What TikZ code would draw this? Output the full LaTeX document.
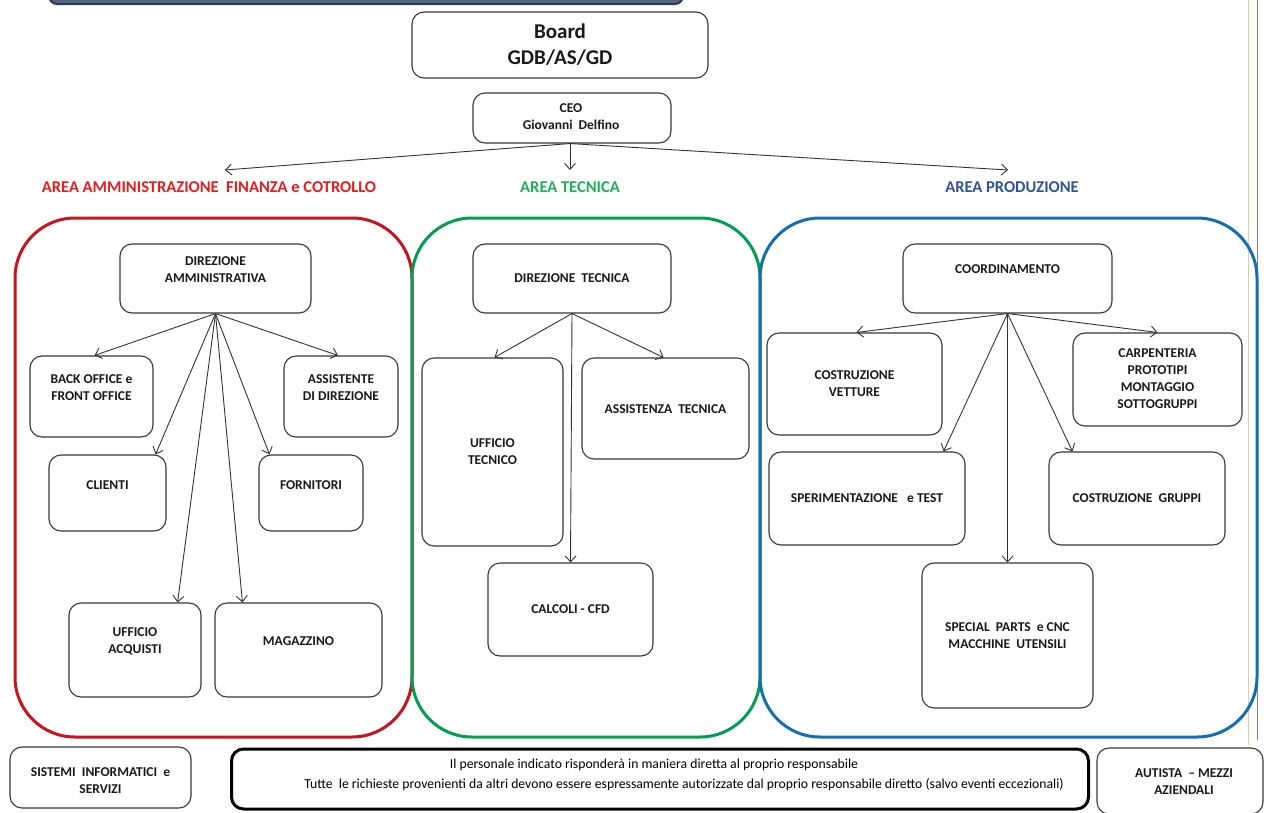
\documentclass[tikz,border=0pt]{standalone}
\usepackage{fontspec}
\setmainfont{Carlito}
\usetikzlibrary{arrows.meta}
\definecolor{redA}{RGB}{200,20,30}
\definecolor{greenA}{RGB}{0,160,80}
\definecolor{blueA}{RGB}{20,110,180}
\definecolor{redL}{RGB}{230,30,30}
\definecolor{greenL}{RGB}{30,176,90}
\definecolor{blueL}{RGB}{47,85,151}
\definecolor{boxgray}{RGB}{55,55,55}
\definecolor{barfill}{RGB}{82,100,132}
\definecolor{bardraw}{RGB}{45,58,80}
\definecolor{yline}{RGB}{215,210,160}
\begin{document}
\begin{tikzpicture}[x=1pt,y=-1pt,
  box/.style={draw=boxgray, line width=1.1pt, rounded corners=12pt, inner sep=0pt, fill=white},
  lbl/.style={font=\fontsize{13.5}{17}\selectfont\bfseries, align=center, inner sep=0pt, text=black!90},
  area/.style={line width=3pt, rounded corners=60pt},
  arr/.style={draw=black!80, line width=0.9pt, -{Straight Barb[length=6pt,width=11pt]}},
  arealbl/.style={font=\fontsize{16.5}{18}\selectfont\bfseries, inner sep=0pt},
  notetxt/.style={font=\fontsize{13.7}{17}\selectfont, inner sep=0pt},
]
\useasboundingbox (0,0) rectangle (1264,812);
\fill[white] (0,0) rectangle (1264,812);
\begin{scope}
\clip (0,0) rectangle (1264,812);
% cropped banner at top
\draw[fill=barfill, draw=bardraw, line width=2pt, rounded corners=8pt] (49,-40) rectangle (683,4);
% right side lines
\draw[yline, line width=1pt] (1248,0) -- (1248,745);
\draw[gray, line width=1.2pt] (1257.5,0) -- (1257.5,740);
\end{scope}

% areas
\draw[area, draw=redA] (15,218) rectangle (412,737);
\draw[area, draw=greenA] (412,218) rectangle (760,737);
\draw[area, draw=blueA] (760,218) rectangle (1257,737);

% board and CEO
\node[box, minimum width=296pt, minimum height=66pt] (board) at (560,45) {};
\node[lbl, font=\fontsize{21}{26}\selectfont\bfseries] (board-t) at (560,45) {Board\\GDB/AS/GD};
\node[box, minimum width=198pt, minimum height=50pt] (ceo) at (572,118) {};
\node[lbl, font=\fontsize{13.5}{17}\selectfont\bfseries] (ceo-t) at (571,117) {CEO\\Giovanni\ \ Delfino};

\coordinate (aL) at (225,170);
\coordinate (aC) at (570,170);
\coordinate (aR) at (1008,170);
\draw[arr] ([xshift=-2pt]ceo.south) -- (aL);
\draw[arr] ([xshift=-2pt]ceo.south) -- (aC);
\draw[arr] ([xshift=-2pt]ceo.south) -- (aR);

\node[arealbl, text=redL] (lblA) at (209,187) {AREA AMMINISTRAZIONE\ \ FINANZA e COTROLLO};
\node[arealbl, text=greenL] (lblT) at (570,187) {AREA TECNICA};
\node[arealbl, text=blueL] (lblP) at (1012,187) {AREA PRODUZIONE};

% ---- amministrazione
\node[box, minimum width=191pt, minimum height=69pt] (da) at (215.5,278.5) {};
\node[lbl] (da-t) at (215.5,269.5) {DIREZIONE\\AMMINISTRATIVA};
\node[box, minimum width=123pt, minimum height=81pt] (back) at (91.5,396.5) {};
\node[lbl] (back-t) at (91.5,387.5) {BACK OFFICE e\\FRONT OFFICE};
\node[box, minimum width=114pt, minimum height=81pt] (ass) at (341,396.5) {};
\node[lbl] (ass-t) at (341,387.5) {ASSISTENTE\\DI DIREZIONE};
\node[box, minimum width=117pt, minimum height=76pt] (cli) at (107.5,493) {};
\node[lbl] (cli-t) at (107.5,485) {CLIENTI};
\node[box, minimum width=104pt, minimum height=76pt] (for) at (311,493) {};
\node[lbl] (for-t) at (311,485) {FORNITORI};
\node[box, minimum width=132pt, minimum height=94pt] (ua) at (135,650) {};
\node[lbl] (ua-t) at (135,641.5) {UFFICIO\\ACQUISTI};
\node[box, minimum width=167pt, minimum height=94pt] (mag) at (298.5,650) {};
\node[lbl] (mag-t) at (298.5,641) {MAGAZZINO};

\draw[arr] (da.south) -- ([xshift=3pt]back.north);
\draw[arr] (da.south) -- ([xshift=-3pt]ass.north);
\draw[arr] (da.south) -- ([xshift=-11pt]cli.north east);
\draw[arr] (da.south) -- ([xshift=11pt]for.north west);
\draw[arr] (da.south) -- ([xshift=-24pt]ua.north east);
\draw[arr] (da.south) -- ([xshift=28pt]mag.north west);

% ---- tecnica
\node[box, minimum width=198pt, minimum height=69pt] (dt) at (572,278.5) {};
\node[lbl] (dt-t) at (572,278) {DIREZIONE\ \ TECNICA};
\node[box, minimum width=141pt, minimum height=188pt] (ut) at (492.5,452) {};
\node[lbl] (ut-t) at (492.5,451.5) {UFFICIO\\TECNICO};
\node[box, minimum width=167pt, minimum height=101pt] (at) at (665.5,408.5) {};
\node[lbl] (at-t) at (665.5,409) {ASSISTENZA\ \ TECNICA};
\node[box, minimum width=165pt, minimum height=93pt] (cfd) at (570.5,609.5) {};
\node[lbl] (cfd-t) at (570.5,609) {CALCOLI - CFD};

\draw[arr] (dt.south) -- ([xshift=2pt]ut.north);
\draw[arr] (dt.south) -- ([xshift=-2pt]at.north);
\draw[arr] (dt.south) -- (cfd.north);

% ---- produzione
\node[box, minimum width=209pt, minimum height=69pt] (co) at (1007.5,278.5) {};
\node[lbl] (co-t) at (1007.5,269) {COORDINAMENTO};
\node[box, minimum width=175pt, minimum height=102pt] (cv) at (854.5,384) {};
\node[lbl] (cv-t) at (854.5,383.5) {COSTRUZIONE\\VETTURE};
\node[box, minimum width=169pt, minimum height=93pt] (cp) at (1157.5,379.5) {};
\node[lbl] (cp-t) at (1157.5,378.5) {CARPENTERIA\\PROTOTIPI\\MONTAGGIO\\SOTTOGRUPPI};
\node[box, minimum width=196pt, minimum height=93pt] (sp) at (867,498.5) {};
\node[lbl] (sp-t) at (867,498) {SPERIMENTAZIONE\ \ \ e TEST};
\node[box, minimum width=176pt, minimum height=93pt] (cg) at (1137,498.5) {};
\node[lbl] (cg-t) at (1137,498) {COSTRUZIONE\ \ GRUPPI};
\node[box, minimum width=171pt, minimum height=145pt] (spc) at (1007.5,635.5) {};
\node[lbl] (spc-t) at (1007.5,635.5) {SPECIAL\ \ PARTS\ \ e CNC\\MACCHINE\ \ UTENSILI};

\draw[arr] (co.south) -- ([xshift=2pt]cv.north);
\draw[arr] (co.south) -- (cp.north);
\draw[arr] (co.south) -- ([xshift=-22pt]sp.north east);
\draw[arr] (co.south) -- ([xshift=24pt]cg.north west);
\draw[arr] (co.south) -- (spc.north);

% ---- bottom row
\node[box, minimum width=181pt, minimum height=61pt] (sis) at (100.5,777.5) {};
\node[lbl] (sis-t) at (100.5,781) {SISTEMI\ \ INFORMATICI\ \ e\\SERVIZI};
\node[box, draw=black, line width=3pt, minimum width=857pt, minimum height=60pt] (note) at (660,779) {};
\node[notetxt] (note-t1) at (654,765) {Il personale indicato risponderà in maniera diretta al proprio responsabile};
\node[notetxt] (note-t2) at (684,785) {Tutte\ \ le richieste provenienti da altri devono essere espressamente autorizzate dal proprio responsabile diretto (salvo eventi eccezionali)};
\node[box, minimum width=166pt, minimum height=66pt] (aut) at (1180,781) {};
\node[lbl] (aut-t) at (1184,781.5) {AUTISTA\ \ -- MEZZI\\AZIENDALI};
\end{tikzpicture}
\end{document}
